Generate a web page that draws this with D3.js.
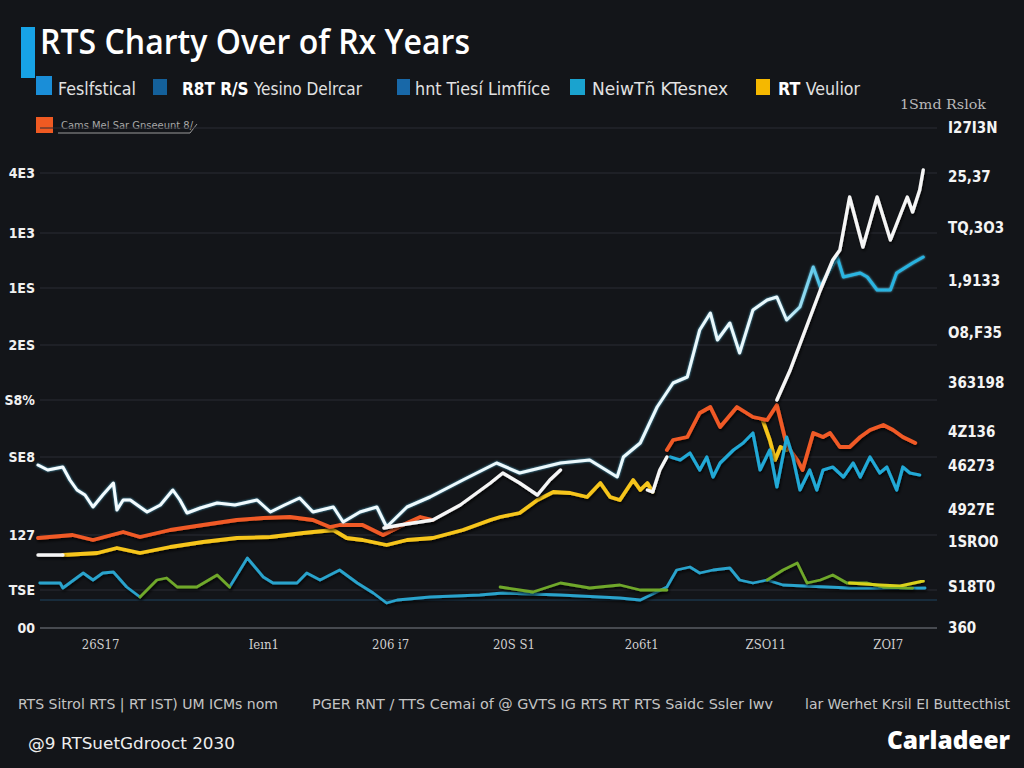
<!DOCTYPE html>
<html><head><meta charset="utf-8">
<script src="https://cdn.jsdelivr.net/npm/d3@7/dist/d3.min.js"></script>
<style>body{margin:0;background:#131519;}svg{display:block}</style>
</head><body>
<svg id="chart" width="1024" height="768"></svg>
<script>
// ---------- DATA ----------
const titleText = "RTS Charty Over of Rx Years";
const legendLabels = ["Feslfstical", "R8T R/S|Yesino Delrcar", "hnt Tiesí Limfiíce", "NeiwTñ KTesnex", "RT|Veulior"];
const legendColors = ["#1a8ed8", "#14609a", "#1868a8", "#1aa3cf", "#f5b800"];
const legend2Label = "Cams Mel Sar Gnseeunt 8/";
const legend2Color = "#f05a22";
const scaleNote = "1Smd Rslok";

const leftTickVals = [91, 79, 68, 56.6, 45.6, 34.2, 18.6, 7.6, 0];
const leftTickLabels = ["4E3", "1E3", "1ES", "2ES", "S8%", "SE8", "127", "TSE", "00"];
const rightTickVals = [100, 90.2, 80, 69.4, 59, 49, 39.2, 32.4, 23.6, 17.2, 8.2, 0];
const rightTickLabels = ["I27I3N", "25,37", "TQ,3O3", "1,9133", "O8,F35", "363198", "4Z136", "46273", "4927E", "1SRO0", "S18T0", "360"];
const xTickVals = [7.0, 25.4, 39.7, 53.6, 68.0, 82.0, 95.8];
const xTickLabels = ["26S17", "Ieın1", "206 i7", "20S S1", "2o6t1", "ZSO11", "ZOI7"];

// series: [t, value] ; null value = gap
const seriesTop = [[0,32.6],[1.1,31.6],[2.8,32.2],[3.6,29.6],[4.4,27.6],[5.3,26.6],[6.2,24.2],[7.3,26.6],[8.5,29],[8.9,23.6],[9.6,25.6],[10.4,25.6],[11.5,24.2],[12.3,23.2],[13.8,24.6],[15.2,27.6],[16.0,25.6],[16.8,23],[18.3,24],[20.2,25],[22.2,24.6],[24.7,25.6],[26.2,23.2],[27.8,24.6],[29.5,26],[31.0,23.2],[33.3,24.2],[34.4,21.2],[36.3,23.2],[38.2,24.2],[39.3,20.2],[41.6,24.2],[44.2,26.2],[47.9,29.6],[51.7,33],[54.3,31],[58.9,33],[62.2,33.6],[65.3,30.2],[66.0,34.2],[67.9,37],[69.8,44.2],[71.6,49],[73.2,50.2],[74.6,59.6],[75.8,63],[76.6,57.6],[78.0,61],[79.1,55],[80.6,63.6],[82.2,65.6],[83.3,66.2],[84.4,61.6],[85.9,64.2],[87.4,72.2],[88.2,68.2],[90.1,74.2],[90.8,70.2],[92.7,71],[93.5,70.2],[94.6,67.6],[96.1,67.6],[96.8,71],[98.6,73],[99.8,74.2]];
const seriesWhite = [[0,14.6],[2.8,14.6],[3.2,null],[39.0,20],[40.8,20.6],[44.5,21.6],[47.6,24.6],[51.0,29],[52.4,31],[54.3,29],[56.3,26.6],[57.7,29.6],[58.9,31.6],[60,null],[68.7,27.6],[69.3,27.2],[70.1,31.6],[70.9,34.2],[75,null],[83.3,45.6],[84.8,51.6],[86.5,59.6],[88.2,67.6],[89.6,73.6],[90.4,75.6],[91.5,86.2],[93.0,76.2],[94.6,86.2],[96.1,77.6],[97.2,82.6],[98.0,86.2],[98.6,83.2],[99.4,87.6],[99.8,91.6]];
const seriesOrange = [[0,18],[3.9,18.6],[6.2,17.6],[9.6,19.2],[11.5,18.2],[14.9,19.6],[18.6,20.6],[22.4,21.6],[25.4,22],[28.4,22.2],[31.0,21.6],[32.9,20.2],[34.0,20.6],[36.6,20.6],[38.9,18.6],[41.6,21],[43.1,22.2],[44.5,21.6],[50,null],[70.9,35.6],[71.6,37.6],[73.2,38.2],[74.6,43],[75.8,44.2],[76.9,40.2],[78.8,44.2],[80.6,42.2],[82.2,41.6],[83.3,44.6],[84.4,36.6],[85.6,33.6],[86.2,31.6],[87.4,39],[88.5,38.2],[89.3,39],[90.4,36.2],[91.5,36.2],[92.7,38.2],[93.8,39.6],[95.3,40.6],[96.4,39.6],[97.5,38.2],[98.9,37]];
const seriesYellow = [[2.8,14.6],[6.7,15],[8.9,16],[11.5,15],[14.9,16.2],[18.6,17.2],[22.4,18],[26.2,18.2],[29.9,19],[33.3,19.6],[34.8,18],[36.6,17.6],[39.3,16.6],[41.6,17.6],[44.5,18],[47.9,19.6],[51.0,21.6],[52.1,22.2],[54.3,23],[56.3,25.6],[58.1,27.2],[60.0,27],[61.9,26.2],[63.4,29],[64.5,26.2],[65.6,25.6],[67.1,29.6],[67.9,27.6],[68.7,29],[69.3,27.2],[75,null],[81.7,41.6],[82.5,37.6],[83.1,33.6],[83.7,36.2],[84.4,35.6]];
const seriesCyan = [[71.3,34.2],[72.4,33.6],[73.5,35],[74.6,31.6],[75.4,34.2],[76.1,30.2],[76.9,33],[78.4,35.6],[79.5,37],[80.6,39],[81.4,31.6],[82.5,35.6],[83.3,28.2],[84.4,38.2],[85.1,34.2],[85.9,27.6],[87.0,31.6],[87.8,27.6],[88.5,31.6],[89.6,32.2],[90.8,30.2],[91.9,33],[92.7,30.2],[93.8,34.2],[94.9,31],[95.7,32.2],[96.8,27.6],[97.5,32.2],[98.3,31],[99.4,30.6]];
const seriesBlueLow = [[0.2,9],[2.5,9],[2.8,8],[5.1,11],[6.2,9.6],[7.3,11],[8.5,11.2],[10.0,8.2],[11.5,6.2],[15,null],[21.6,8.2],[23.6,14],[25.4,10.2],[26.5,9],[29.2,9],[30.3,11],[31.8,9.6],[34.0,11.6],[36.0,9],[37.8,7],[39.3,5],[40.5,5.6],[44.2,6.2],[49.8,6.6],[52.4,7],[58.9,6.6],[65.6,6],[67.9,5.6],[70.9,8.2],[72.0,11.6],[73.5,12.2],[74.6,11],[76.1,11.6],[78.0,12],[79.1,9.6],[80.6,9],[82.2,9.6],[84.0,8.6],[91.5,8],[100,8]];
const seriesGreen = [[11.5,6.2],[13.4,9.6],[14.5,10],[15.7,8.2],[17.9,8.2],[20.2,10.6],[21.6,8.2],[30,null],[52.1,8.2],[55.8,7.2],[58.9,9],[62.2,8],[65.6,8.6],[67.9,7.6],[70.9,7.6],[75,null],[82.2,9.6],[84.0,11.6],[85.6,13],[86.7,9],[88.2,9.6],[89.6,10.6],[91.2,9],[93.5,9],[95.3,8.2],[98.6,8]];
const seriesYellowLow = [[91.5,9],[94.9,8.6],[97.2,8.4],[99.8,9.4]];
const baselineValue = 5.6;

const footerTexts = ["RTS Sitrol RTS | RT IST) UM ICMs nom", "PGER RNT / TTS Cemai of @ GVTS IG RTS RT RTS Saidc Ssler Iwv", "lar Werhet Krsil EI Buttecthist"];
const copyrightText = "@9 RTSuetGdrooct 2030";
const brandText = "Carladeer";

// ---------- DRAW ----------
const svg = d3.select("#chart");
const W = 1024, H = 768;
svg.append("rect").attr("width", W).attr("height", H).attr("fill", "#131519");

const x = d3.scaleLinear().domain([0, 100]).range([38, 925]);
const y = d3.scaleLinear().domain([0, 100]).range([628, 128]);
const narrow = "'Liberation Sans Narrow','DejaVu Sans Condensed','Roboto',sans-serif";

const defs = svg.append("defs");
const grad = defs.append("linearGradient").attr("id", "topGrad").attr("gradientUnits", "userSpaceOnUse")
  .attr("x1", x(0)).attr("x2", x(100)).attr("y1", 0).attr("y2", 0);
grad.append("stop").attr("offset", "0%").attr("stop-color", "#f4fcff");
grad.append("stop").attr("offset", "84%").attr("stop-color", "#e8f8fc");
grad.append("stop").attr("offset", "89%").attr("stop-color", "#2bb6e2");
grad.append("stop").attr("offset", "100%").attr("stop-color", "#27b2e0");
const glow = defs.append("filter").attr("id", "glow").attr("x", "-5%").attr("y", "-5%").attr("width", "110%").attr("height", "110%");
glow.append("feDropShadow").attr("dx", 0).attr("dy", 0).attr("stdDeviation", 1.3).attr("flood-color", "#53c6ea").attr("flood-opacity", 0.9);
const shadow = defs.append("filter").attr("id", "shadow");
shadow.append("feDropShadow").attr("dx", 1).attr("dy", 2).attr("stdDeviation", 1.5).attr("flood-color", "#000").attr("flood-opacity", 0.8);

// title + accent
svg.append("rect").attr("x", 21).attr("y", 27).attr("width", 14).attr("height", 51).attr("fill", "#17a3e6");
svg.append("text").attr("x", 40).attr("y", 54).text(titleText)
  .attr("fill", "#ffffff").attr("font-family", "'Open Sans',sans-serif").attr("font-weight", 650)
  .attr("font-size", 35).attr("textLength", 430).attr("lengthAdjust", "spacingAndGlyphs");

// legend row 1
const legX = [36, 153, 397, 570, 756];
const legW = [16, 14, 13, 15, 14];
const labX = [58, 182, 415, 592, 778];
const labLen = [78, 180, 135, 136, 82];
legendLabels.forEach((lab, i) => {
  svg.append("rect").attr("x", legX[i]).attr("y", i === 0 ? 76 : 79).attr("width", legW[i]).attr("height", i === 0 ? 19 : 16)
    .attr("fill", legendColors[i]);
  const t = svg.append("text").attr("x", labX[i]).attr("y", 95).attr("font-family", narrow).attr("font-size", 18)
    .attr("fill", "#e2e2e2").attr("textLength", labLen[i]).attr("lengthAdjust", "spacingAndGlyphs");
  const parts = lab.split("|");
  if (parts.length > 1) {
    t.append("tspan").attr("font-weight", "bold").attr("fill", "#fff").text(parts[0] + " ");
    t.append("tspan").text(parts[1]);
  } else t.text(lab);
});
svg.append("text").attr("x", 900).attr("y", 109).text(scaleNote).attr("fill", "#b8b8b8")
  .attr("font-family", "'DejaVu Serif',serif").attr("font-size", 13).attr("textLength", 86).attr("lengthAdjust", "spacingAndGlyphs");
// legend row 2
svg.append("rect").attr("x", 36).attr("y", 117).attr("width", 17).attr("height", 16).attr("fill", legend2Color);
svg.append("text").attr("x", 61).attr("y", 129).text(legend2Label).attr("fill", "#a8a8a8")
  .attr("font-family", narrow).attr("font-size", 11).attr("textLength", 132).attr("lengthAdjust", "spacingAndGlyphs");
svg.append("path").attr("d", "M58,133 L190,133 L197,124").attr("fill", "none").attr("stroke", "#9a9a9a").attr("stroke-width", 1);

// gridlines
const gridVals = [100, ...leftTickVals.filter(v => v > 0)];
svg.append("g").selectAll("line").data(gridVals).join("line")
  .attr("x1", 40).attr("x2", 937).attr("y1", d => y(d)).attr("y2", d => y(d))
  .attr("stroke", "#2a2d34").attr("stroke-width", 1);
svg.append("line").attr("x1", 40).attr("x2", 937).attr("y1", y(baselineValue)).attr("y2", y(baselineValue))
  .attr("stroke", "#1f4560").attr("stroke-width", 1.2);

// axes
const gLeft = svg.append("g").attr("transform", "translate(37,0)")
  .call(d3.axisLeft(y).tickValues(leftTickVals).tickFormat((d, i) => leftTickLabels[i]).tickSize(0).tickPadding(2));
gLeft.select(".domain").remove();
gLeft.selectAll("text").attr("fill", "#f0f0f0").attr("font-family", "'DejaVu Sans Condensed',sans-serif")
  .attr("font-size", 14).attr("font-weight", "bold");

const gRight = svg.append("g").attr("transform", "translate(946,0)")
  .call(d3.axisRight(y).tickValues(rightTickVals).tickFormat((d, i) => rightTickLabels[i]).tickSize(0).tickPadding(2));
gRight.select(".domain").remove();
gRight.selectAll("text").attr("fill", "#f4f4f4").attr("font-family", "'DejaVu Sans Condensed',sans-serif")
  .attr("font-size", 15).attr("font-weight", "bold");

const gBottom = svg.append("g").attr("transform", "translate(0,628)")
  .call(d3.axisBottom(x).tickValues(xTickVals).tickFormat((d, i) => xTickLabels[i]).tickSize(0).tickPadding(12));
gBottom.select(".domain").remove();
gBottom.selectAll("text").attr("fill", "#d0d0d0").attr("font-family", "'DejaVu Serif Condensed','DejaVu Serif',serif")
  .attr("font-size", 13);
svg.append("line").attr("x1", 40).attr("x2", 937).attr("y1", y(0)).attr("y2", y(0)).attr("stroke", "#5a5d63").attr("stroke-width", 1.5);

// lines
const line = d3.line().defined(d => d[1] !== null).x(d => x(d[0])).y(d => y(d[1])).curve(d3.curveLinear);
function draw(data, color, width, filter) {
  const p = svg.append("path").datum(data).attr("d", line).attr("fill", "none").attr("stroke", color)
    .attr("stroke-width", width).attr("stroke-linejoin", "round").attr("stroke-linecap", "round");
  if (filter) p.attr("filter", filter);
  return p;
}
draw(seriesBlueLow, "#2aa3cc", 2.8, "url(#shadow)");
draw(seriesGreen, "#6fa82c", 2.8, "url(#shadow)");
draw(seriesYellowLow, "#d9d21e", 3.2, "url(#shadow)");
draw(seriesYellow, "#f6c51a", 3.8, "url(#shadow)");
draw(seriesOrange, "#f05a28", 3.8, "url(#shadow)");
draw(seriesCyan, "#22a9d6", 3.2, "url(#shadow)");
draw(seriesTop, "url(#topGrad)", 3, "url(#glow)");
draw(seriesWhite, "#f6f6f6", 3.4, "url(#shadow)");

// footer
const fX = [18, 312, 805], fLen = [260, 461, 205];
footerTexts.forEach((t, i) => {
  svg.append("text").attr("x", fX[i]).attr("y", 709).text(t).attr("fill", "#c4c4c4")
    .attr("font-family", narrow).attr("font-size", 14).attr("textLength", fLen[i]).attr("lengthAdjust", "spacingAndGlyphs");
});
svg.append("text").attr("x", 28).attr("y", 749).text(copyrightText).attr("fill", "#eeeeee")
  .attr("font-family", "'DejaVu Sans',sans-serif").attr("font-size", 16).attr("textLength", 207).attr("lengthAdjust", "spacingAndGlyphs");
svg.append("text").attr("x", 887).attr("y", 749).text(brandText).attr("fill", "#ffffff")
  .attr("font-family", "'Open Sans',sans-serif").attr("font-weight", 800).attr("font-size", 25)
  .attr("textLength", 123).attr("lengthAdjust", "spacingAndGlyphs");
</script>
</body></html>
